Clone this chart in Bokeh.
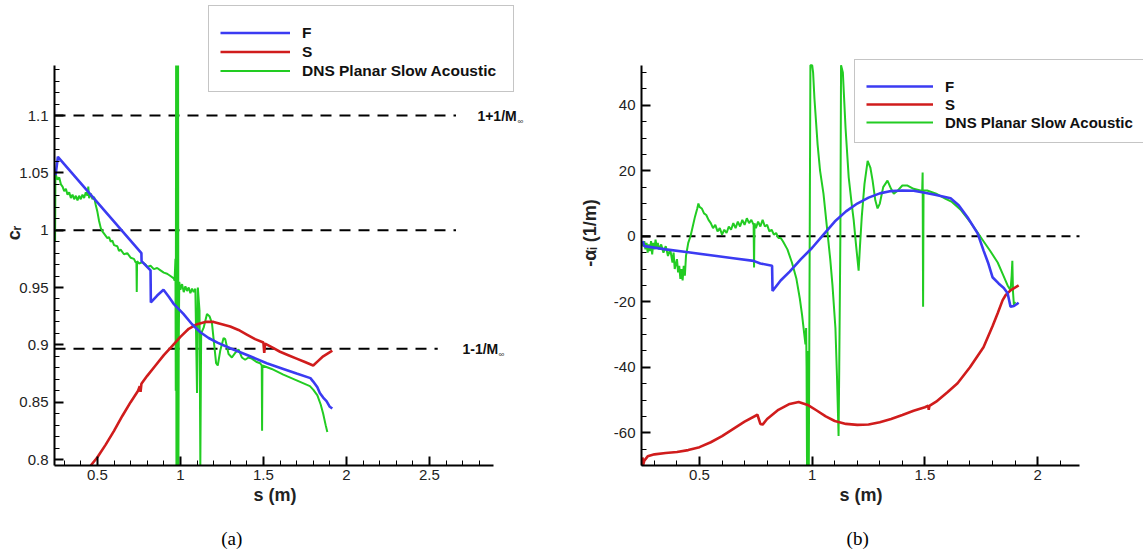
import numpy as np
from bokeh.plotting import figure
from bokeh.layouts import row
from bokeh.models import (Range1d, FixedTicker, CustomJSTickFormatter, Legend, LegendItem, Label, LinearAxis)
from bokeh.embed import file_html
from bokeh.resources import INLINE

# ---------------- data: panel (a) phase speed c_r ----------------
s_F_a = [0.248, 0.262, 0.765, 0.766, 0.82, 0.822, 0.86, 0.898, 0.93, 0.958, 1.018, 1.07, 1.12, 1.17,
         1.223, 1.30, 1.42, 1.52, 1.62, 1.70, 1.783, 1.80, 1.825, 1.84, 1.86, 1.88, 1.90, 1.915]
cr_F = [1.048, 1.064, 0.980, 0.973, 0.965, 0.937, 0.943, 0.948, 0.942, 0.936, 0.927, 0.918, 0.911, 0.906,
        0.902, 0.897, 0.890, 0.884, 0.879, 0.875, 0.871, 0.868, 0.863, 0.858, 0.854, 0.851, 0.846, 0.8445]

s_S_a = [0.46, 0.50, 0.55, 0.60, 0.65, 0.70, 0.745, 0.755, 0.76, 0.765, 0.80, 0.85, 0.90, 0.95, 1.00, 1.05,
         1.10, 1.15, 1.20, 1.25, 1.30, 1.35, 1.40, 1.45, 1.50, 1.505, 1.51, 1.55, 1.60, 1.65, 1.70, 1.75,
         1.80, 1.83, 1.86, 1.915]
cr_S = [0.790, 0.802, 0.813, 0.825, 0.838, 0.850, 0.860, 0.864, 0.859, 0.866, 0.873, 0.882, 0.891, 0.899,
        0.907, 0.914, 0.918, 0.920, 0.920, 0.918, 0.916, 0.913, 0.909, 0.905, 0.902, 0.893, 0.901, 0.898,
        0.894, 0.891, 0.888, 0.885, 0.882, 0.886, 0.890, 0.895]

s_DNS_a = [0.245, 0.247, 0.25, 0.26, 0.27, 0.28, 0.29, 0.30, 0.31, 0.32, 0.33, 0.34, 0.35, 0.36, 0.37, 0.38,
           0.39, 0.40, 0.41, 0.42, 0.43, 0.44, 0.445, 0.45, 0.46, 0.47, 0.48, 0.49, 0.50, 0.51, 0.52, 0.53,
           0.54, 0.55, 0.56, 0.57, 0.58, 0.59, 0.60, 0.62, 0.63, 0.64, 0.66, 0.68, 0.70, 0.72, 0.73, 0.735,
           0.737, 0.739, 0.75, 0.77, 0.79, 0.80, 0.82, 0.84, 0.86, 0.88, 0.90, 0.92, 0.94, 0.96, 0.965,
           0.970, 0.972, 0.974, 0.976, 0.978, 0.980, 0.982, 0.984, 0.986, 0.988, 0.990, 0.993,
           1.00, 1.01, 1.02, 1.03, 1.04, 1.05, 1.06, 1.07, 1.08, 1.09, 1.10, 1.105, 1.115, 1.12, 1.125,
           1.14, 1.16, 1.175, 1.19, 1.20, 1.215, 1.225, 1.24, 1.26, 1.27, 1.29, 1.31, 1.33, 1.35, 1.37,
           1.39, 1.41, 1.43, 1.46, 1.48, 1.49, 1.492, 1.494, 1.55, 1.62, 1.70, 1.78, 1.80, 1.825, 1.845,
           1.86, 1.875, 1.885]
cr_DNS = [0.990, 1.048, 1.048, 1.044, 1.046, 1.040, 1.038, 1.034, 1.036, 1.031, 1.033, 1.028, 1.031, 1.027,
          1.030, 1.026, 1.030, 1.027, 1.031, 1.028, 1.033, 1.030, 1.038, 1.028, 1.032, 1.027, 1.029, 1.022,
          1.016, 1.008, 1.002, 0.999, 0.997, 0.995, 0.993, 0.994, 0.990, 0.991, 0.987, 0.986, 0.982, 0.983,
          0.979, 0.980, 0.976, 0.975, 0.972, 0.972, 0.946, 0.973, 0.971, 0.972, 0.970, 0.968, 0.969, 0.966,
          0.967, 0.965, 0.963, 0.962, 0.960, 0.958, 0.956,
          0.975, 0.860, 1.200, 0.700, 1.200, 0.700, 1.200, 0.700, 1.200, 0.700, 0.900, 0.955,
          0.948, 0.953, 0.946, 0.951, 0.947, 0.950, 0.945, 0.949, 0.946, 0.949, 0.858, 0.950, 0.930, 0.700,
          0.910, 0.915, 0.927, 0.925, 0.919, 0.905, 0.884, 0.882, 0.895, 0.906, 0.905, 0.892, 0.889, 0.893,
          0.896, 0.889, 0.887, 0.889, 0.888, 0.885, 0.884, 0.882, 0.825, 0.882, 0.879, 0.874, 0.869, 0.864,
          0.861, 0.856, 0.848, 0.840, 0.830, 0.824]

hline_a_y = [1.1, 1.0, 0.8965]
hline_a_xend = [2.66, 2.66, 2.55]
hline_a_text = ["1+1/M", None, "1-1/M"]
hline_a_textx = [2.789, None, 2.699]

# ---------------- data: panel (b) growth rate -alpha_i ----------------
s_F_b = [0.248, 0.255, 0.35, 0.45, 0.55, 0.65, 0.74, 0.77, 0.822, 0.824, 0.86, 0.90, 0.95, 1.00, 1.05,
         1.10, 1.15, 1.20, 1.25, 1.30, 1.35, 1.40, 1.45, 1.50, 1.55, 1.614, 1.65, 1.689, 1.734, 1.76, 1.78,
         1.80, 1.827, 1.85, 1.867, 1.88, 1.895, 1.916]
ai_F = [-1.5, -3.0, -4.0, -4.9, -5.8, -6.7, -7.5, -8.3, -9.0, -16.7, -13.5, -10.8, -7.0, -3.5, 0.5,
        4.5, 7.6, 10.0, 11.8, 13.1, 13.8, 14.0, 13.9, 13.3, 12.6, 11.6, 9.5, 5.8, 0.9, -4.3, -8.0,
        -12.5, -14.4, -15.8, -17.4, -21.5, -21.3, -20.3]

s_S_b = [0.247, 0.25, 0.255, 0.27, 0.30, 0.35, 0.40, 0.45, 0.50, 0.55, 0.60, 0.65, 0.70, 0.757, 0.77,
         0.78, 0.80, 0.85, 0.90, 0.94, 0.98, 1.02, 1.06, 1.10, 1.15, 1.20, 1.25, 1.30, 1.35, 1.40, 1.45,
         1.50, 1.515, 1.517, 1.52, 1.55, 1.60, 1.645, 1.70, 1.76, 1.80, 1.823, 1.845, 1.858, 1.88, 1.916]
ai_S = [-67.5, -69.8, -68.5, -67.2, -66.6, -66.2, -65.9, -65.3, -64.4, -62.9, -61.0, -58.8, -56.6, -54.5,
        -57.3, -57.5, -55.8, -53.0, -51.2, -50.6, -51.5, -53.2, -55.0, -56.4, -57.3, -57.6, -57.5, -56.8,
        -55.8, -54.6, -53.3, -52.2, -51.7, -53.0, -51.8, -50.5, -47.6, -44.9, -40.0, -33.9, -27.5, -23.5,
        -19.5, -18.0, -16.5, -15.0]

s_DNS_b = [0.245, 0.25, 0.255, 0.26, 0.265, 0.27, 0.275, 0.28, 0.285, 0.29, 0.295, 0.30, 0.305, 0.31,
           0.315, 0.32, 0.33, 0.34, 0.35, 0.36, 0.37, 0.38, 0.385, 0.39, 0.40, 0.405, 0.41, 0.415, 0.42,
           0.425, 0.43, 0.435, 0.44, 0.45, 0.46, 0.47, 0.48, 0.49, 0.495, 0.50, 0.51, 0.52, 0.53, 0.54,
           0.55, 0.56, 0.57, 0.58, 0.59, 0.60, 0.61, 0.62, 0.63, 0.64, 0.65, 0.66, 0.67, 0.68, 0.69, 0.70,
           0.71, 0.72, 0.73, 0.74, 0.742, 0.744, 0.75, 0.76, 0.77, 0.78, 0.79, 0.80, 0.81, 0.82, 0.83,
           0.84, 0.85, 0.86, 0.87, 0.89, 0.91, 0.93, 0.945, 0.955, 0.965, 0.97, 0.973, 0.975, 0.977, 0.979,
           0.981, 0.983, 0.985, 0.992, 1.00, 1.004, 1.01, 1.024, 1.035, 1.05, 1.065, 1.08, 1.09, 1.103,
           1.11, 1.117, 1.12, 1.125, 1.128, 1.136, 1.148, 1.162, 1.175, 1.184, 1.195, 1.206, 1.212, 1.22,
           1.232, 1.246, 1.258, 1.268, 1.28, 1.29, 1.30, 1.315, 1.334, 1.35, 1.362, 1.38, 1.40, 1.423,
           1.45, 1.48, 1.488, 1.49, 1.492, 1.494, 1.51, 1.55, 1.59, 1.62, 1.66, 1.70, 1.73, 1.76, 1.79,
           1.823, 1.845, 1.867, 1.88, 1.885, 1.888, 1.891, 1.895, 1.90]
ai_DNS = [-2.2, -3.0, -1.5, -4.0, -2.0, -5.0, -2.5, -4.5, -1.5, -5.5, -2.0, -4.0, -1.0, -3.5,
          -2.0, -4.0, -2.5, -5.0, -3.0, -6.0, -4.0, -8.0, -5.0, -10.0, -7.0, -11.0, -9.0, -13.0, -10.0,
          -13.5, -9.0, -12.0, -6.0, -2.0, 0.0, 3.0, 6.0, 8.5, 10.0, 9.0, 8.5, 7.0, 6.5, 5.0,
          4.0, 2.5, 3.5, 1.5, 2.5, 0.5, 2.0, 1.0, 3.0, 2.0, 4.0, 2.5, 4.5, 3.0, 5.0, 3.5,
          5.5, 4.0, 5.0, 3.5, -9.5, 4.0, 2.5, 4.5, 3.0, 5.0, 3.0, 3.5, 1.5, 2.0, 0.5,
          1.0, -0.5, -0.5, -1.5, -4.0, -8.0, -13.0, -19.0, -24.0, -30.0, -33.0, -28.0, -40.0, -80.0, -35.0,
          -80.0, -45.0, -80.0, 70.0, 60.0, 50.0, 42.0, 28.0, 20.0, 13.0, 3.0, -7.0, -15.0, -28.0,
          -43.0, -61.0, -40.0, 0.0, 70.0, 50.0, 33.0, 18.0, 10.0, 5.0, -3.0, -10.5, -3.0, 6.0,
          16.0, 23.0, 21.0, 17.0, 11.0, 8.5, 10.0, 15.0, 17.0, 14.5, 13.0, 14.0, 15.5, 15.5,
          14.5, 14.0, 14.0, 19.5, -21.5, 14.0, 14.0, 13.0, 11.5, 10.5, 8.0, 4.5, 1.5, -1.5, -4.5,
          -8.0, -11.5, -15.0, -16.5, -12.0, -7.5, -17.0, -21.0, -20.0]

hline_b_y = [0.0]

# ticks
xa_major = [0.5, 1, 1.5, 2, 2.5]
ya_major = [0.8, 0.85, 0.9, 0.95, 1, 1.05, 1.1]
xb_major = [0.5, 1, 1.5, 2]
yb_major = [-60, -40, -20, 0, 20, 40]

# axis extents
XA = (0.2415, 2.886)
YA = (0.7948, 1.1436)
XB = (0.2426, 2.186)
YB = (-70.0, 52.2)

BLUE = "#3b3bf2"
RED = "#d01c1c"
GREEN = "#22cc22"
FONT = "Liberation Sans"
EM = "\u2003"
EN = "\u2002"
SIXTH = "\u2006"

fmt = CustomJSTickFormatter(code="return String(tick)")


def style_axes(p, xmaj, xmin, ymaj, ymin, xb, yb):
    p.xaxis.ticker = FixedTicker(ticks=xmaj, minor_ticks=xmin)
    p.yaxis.ticker = FixedTicker(ticks=ymaj, minor_ticks=ymin)
    p.xaxis.bounds = xb
    p.yaxis.bounds = yb
    for ax in (p.xaxis[0], p.yaxis[0]):
        ax.formatter = fmt
        ax.axis_line_color = "black"
        ax.axis_line_width = 2
        ax.major_tick_in = 9
        ax.major_tick_out = 0
        ax.minor_tick_in = 5
        ax.minor_tick_out = 0
        ax.major_tick_line_width = 2
        ax.minor_tick_line_width = 1
        ax.major_tick_line_color = "black"
        ax.minor_tick_line_color = "black"
        ax.major_label_text_font = FONT
        ax.major_label_text_font_size = "15px"
        ax.major_label_text_color = "#222222"
        ax.axis_label_text_font = FONT
        ax.axis_label_text_font_size = "18px"
        ax.axis_label_text_font_style = "bold"
        ax.axis_label_text_color = "#222222"
    p.xaxis.major_label_standoff = 4
    p.xaxis.axis_label_standoff = 2
    p.yaxis.major_label_standoff = 6
    p.grid.visible = False
    p.outline_line_color = None


def add_caption(p, text):
    ax = LinearAxis(ticker=FixedTicker(ticks=[]), axis_line_color=None,
                    major_tick_line_color=None, minor_tick_line_color=None,
                    major_label_text_font_size="0px", axis_label=text,
                    axis_label_text_font="Liberation Serif", axis_label_text_font_size="19px",
                    axis_label_text_font_style="normal", axis_label_text_color="black",
                    axis_label_standoff=20)
    p.add_layout(ax, "below")


def make_legend(p, rends, loc, fs, h, gw, lw):
    items = [LegendItem(label=lab, renderers=[r]) for lab, r in zip(["F", "S", "DNS Planar Slow Acoustic"], rends)]
    leg = Legend(items=items, location=loc, orientation="vertical", glyph_width=gw,
                 glyph_height=h, label_height=h, label_standoff=12, spacing=0, padding=11, margin=0,
                 label_width=lw, border_line_color="#8c8c8c", border_line_width=1,
                 background_fill_color="white", background_fill_alpha=1.0,
                 label_text_font=FONT, label_text_font_style="bold", label_text_font_size=fs,
                 label_text_color="#111111", title=" ", title_text_font_size="4px", title_standoff=1)
    p.add_layout(leg)


# ---------------- panel (a) ----------------
xa_end = XA[1] + 77 * (XA[1] - XA[0]) / 439
ya_end = YA[1] + 65 * (YA[1] - YA[0]) / 400
pa = figure(width=570, height=556, x_range=Range1d(XA[0], xa_end), y_range=Range1d(YA[0], ya_end),
            output_backend="svg", toolbar_location=None, min_border_left=54, min_border_right=0,
            min_border_top=0, min_border_bottom=91, background_fill_color="white",
            border_fill_color="white")
style_axes(pa, xa_major, list(np.round(np.arange(0.3, 2.81, 0.1), 2)),
           ya_major, list(np.round(np.arange(0.80, 1.141, 0.01), 3)), XA, YA)
# trailing wide spaces shift the centred label onto the axis' own centre
pa.xaxis.axis_label = "s (m)" + EM * 4 + SIXTH
pa.yaxis.axis_label = "cᵣ"
pa.yaxis.axis_label_standoff = -8

for yv, xe in zip(hline_a_y, hline_a_xend):
    pa.line([XA[0], xe], [yv, yv], line_color="black", line_width=2, line_dash="11 8")

r_dns_a = pa.line(s_DNS_a, np.clip(cr_DNS, YA[0], YA[1]), line_color=GREEN, line_width=2)
r_s_a = pa.line(s_S_a, np.clip(cr_S, YA[0], YA[1]), line_color=RED, line_width=2.6)
r_f_a = pa.line(s_F_a, cr_F, line_color=BLUE, line_width=2.6)

for yv, xt, txt in zip(hline_a_y, hline_a_textx, hline_a_text):
    if txt is None:
        continue
    pa.add_layout(Label(x=xt, y=yv, text=txt, text_font=FONT, text_font_size="14px",
                        text_font_style="bold", text_baseline="middle", text_color="#111111"))
    pa.add_layout(Label(x=xt, y=yv, x_offset=40 if "+" in txt else 36, y_offset=-6, text="∞",
                        text_font=FONT, text_font_size="8px", text_baseline="middle",
                        text_color="#333333"))

make_legend(pa, [r_f_a, r_s_a, r_dns_a], (154, 373), "15.5px", 19, 70, 200)
add_caption(pa, "(a)" + EM * 8 + EN)

# ---------------- panel (b) ----------------
xb_end = XB[1] + 64 * (XB[1] - XB[0]) / 438
yb_end = YB[1] + 65 * (YB[1] - YB[0]) / 401
pb = figure(width=573, height=556, x_range=Range1d(XB[0], xb_end), y_range=Range1d(YB[0], yb_end),
            output_backend="svg", toolbar_location=None, min_border_left=71, min_border_right=0,
            min_border_top=0, min_border_bottom=90, background_fill_color="white",
            border_fill_color="white")
style_axes(pb, xb_major, list(np.round(np.arange(0.3, 2.11, 0.1), 2)),
           yb_major, list(np.arange(-70, 51, 5)), XB, YB)
pb.xaxis.axis_label = "s (m)" + EM * 3 + EN
pb.yaxis.axis_label = "-αᵢ (1/m)"
pb.yaxis.axis_label_standoff = 11

for yv in hline_b_y:
    pb.line([XB[0], XB[1]], [yv, yv], line_color="black", line_width=2, line_dash="9 6")

r_dns_b = pb.line(s_DNS_b, np.clip(ai_DNS, YB[0], YB[1]), line_color=GREEN, line_width=2)
r_s_b = pb.line(s_S_b, ai_S, line_color=RED, line_width=2.6)
r_f_b = pb.line(s_F_b, ai_F, line_color=BLUE, line_width=2.6)

make_legend(pb, [r_f_b, r_s_b, r_dns_b], (213, 322), "15px", 18, 67, 185)
add_caption(pb, "(b)" + EM * 3 + EN + SIXTH)

layout = row(pa, pb)
open("out.html", "w").write(file_html(layout, INLINE))
